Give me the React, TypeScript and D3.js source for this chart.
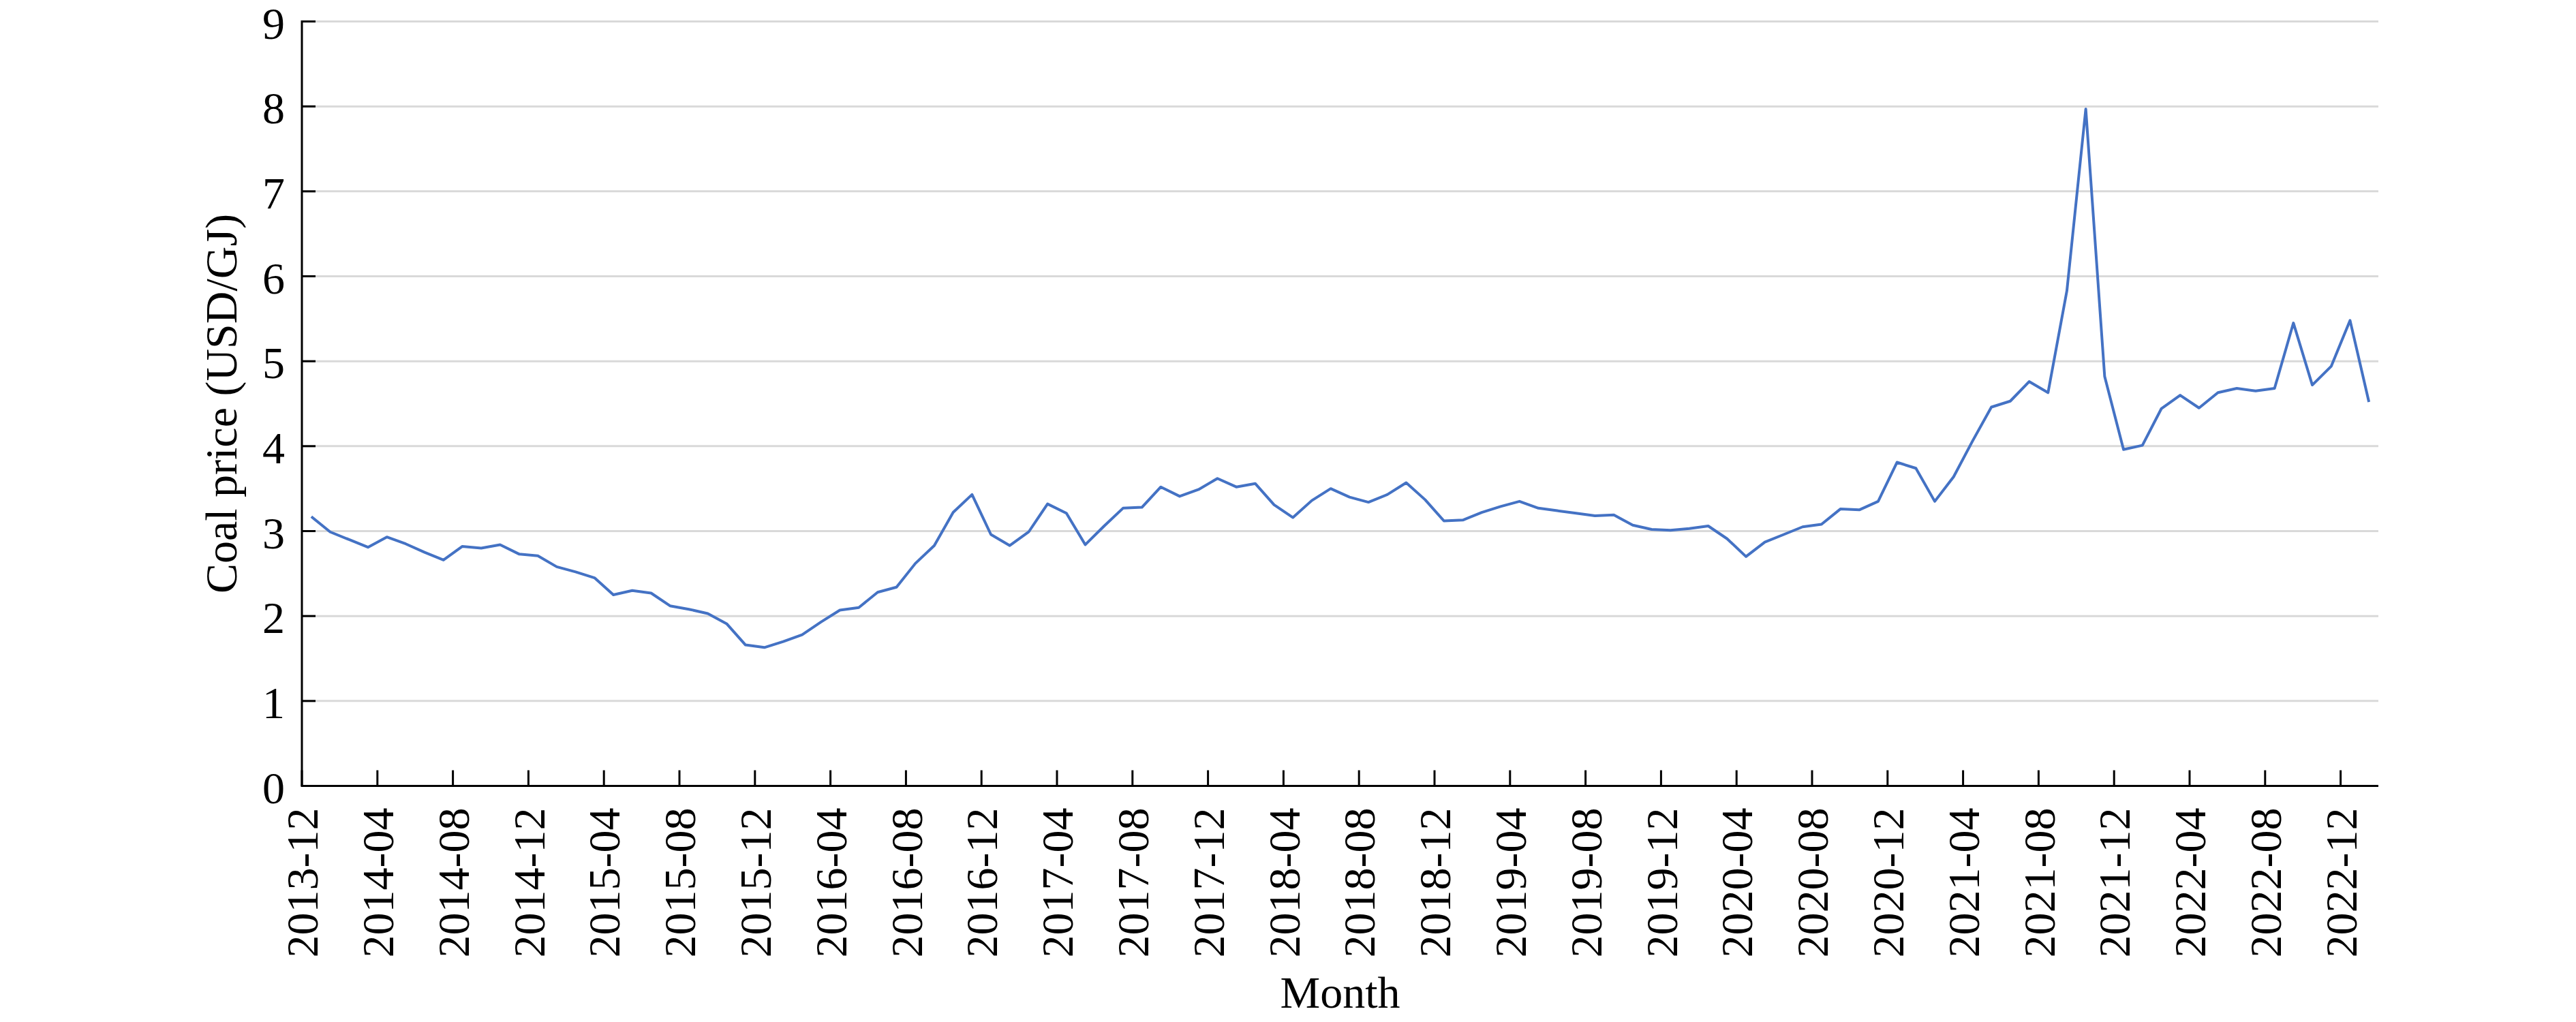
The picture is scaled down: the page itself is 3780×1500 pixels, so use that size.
import React from "react";
import * as d3 from "d3";

const startMonth = new Date(Date.UTC(2013, 11, 1));
const monthCount = 110;
const months: string[] = d3.utcMonth
  .range(startMonth, d3.utcMonth.offset(startMonth, monthCount))
  .map((d) => d3.utcFormat("%Y-%m")(d));

const coalPrice: number[] = [
  3.17, 2.99, 2.9, 2.81, 2.93, 2.85, 2.75, 2.66, 2.82, 2.8,
  2.84, 2.73, 2.71, 2.58, 2.52, 2.45, 2.25, 2.3, 2.27, 2.12,
  2.08, 2.03, 1.91, 1.66, 1.63, 1.7, 1.78, 1.93, 2.07, 2.1,
  2.28, 2.34, 2.62, 2.83, 3.22, 3.43, 2.96, 2.83, 2.99, 3.32,
  3.21, 2.84, 3.06, 3.27, 3.28, 3.52, 3.41, 3.49, 3.62, 3.52,
  3.56, 3.31, 3.16, 3.36, 3.5, 3.4, 3.34, 3.43, 3.57, 3.37,
  3.12, 3.13, 3.22, 3.29, 3.35, 3.27, 3.24, 3.21, 3.18, 3.19,
  3.07, 3.02, 3.01, 3.03, 3.06, 2.91, 2.7, 2.87, 2.96, 3.05,
  3.08, 3.26, 3.25, 3.35, 3.81, 3.74, 3.35, 3.64, 4.06, 4.46,
  4.53, 4.76, 4.63, 5.83, 7.97, 4.82, 3.96, 4.01, 4.44, 4.6,
  4.45, 4.63, 4.68, 4.65, 4.68, 5.45, 4.72, 4.94, 5.48, 4.52,
];

const tickLabels: string[] = [
  "2013-12", "2014-04", "2014-08", "2014-12", "2015-04", "2015-08", "2015-12",
  "2016-04", "2016-08", "2016-12", "2017-04", "2017-08", "2017-12",
  "2018-04", "2018-08", "2018-12", "2019-04", "2019-08", "2019-12",
  "2020-04", "2020-08", "2020-12", "2021-04", "2021-08", "2021-12",
  "2022-04", "2022-08", "2022-12",
];

const yTicks: number[] = [0, 1, 2, 3, 4, 5, 6, 7, 8, 9];

const W = 3780;
const H = 1500;
const left = 443;
const right = 3490;
const top = 31.5;
const bottom = 1153.5;
const FONT = "'Liberation Serif', 'Times New Roman', serif";
const FS = 66;

export default function App() {
  const x = d3.scaleBand<string>().domain(months).range([left, right]).padding(0);
  const y = d3.scaleLinear().domain([0, 9]).range([bottom, top]);
  const bw = x.bandwidth();

  const line = d3
    .line<number>()
    .x((_, i) => (x(months[i]) as number) + bw / 2)
    .y((d) => y(d));

  return (
    <svg
      width={W}
      height={H}
      style={{ position: "absolute", left: 0, top: 0, background: "#fff" }}
      fontFamily={FONT}
    >
      <rect x={0} y={0} width={W} height={H} fill="#fff" />
      {yTicks
        .filter((t) => t > 0)
        .map((t) => (
          <line key={"g" + t} x1={left} x2={right} y1={y(t)} y2={y(t)} stroke="#d9d9d9" strokeWidth={3} />
        ))}
      <path d={line(coalPrice) || ""} fill="none" stroke="#4472c4" strokeWidth={4} strokeLinejoin="round" />
      <line x1={left} x2={left} y1={top - 1.5} y2={bottom} stroke="#000" strokeWidth={3} />
      <line x1={left - 1.5} x2={right} y1={bottom} y2={bottom} stroke="#000" strokeWidth={3} />
      {yTicks.map((t) => (
        <g key={"y" + t}>
          <line x1={left} x2={left + 20} y1={y(t)} y2={y(t)} stroke="#000" strokeWidth={3} />
          <text x={left - 25} y={y(t) + 2} dy="0.35em" textAnchor="end" fontSize={FS} fill="#000">
            {t}
          </text>
        </g>
      ))}
      {tickLabels.map((lab) => {
        const xp = x(lab) as number;
        return (
          <g key={"x" + lab}>
            <line x1={xp} x2={xp} y1={bottom} y2={bottom - 23} stroke="#000" strokeWidth={3} />
            <text
              transform={`translate(${xp},${bottom + 32}) rotate(-90)`}
              dy="0.35em"
              textAnchor="end"
              fontSize={FS}
              fill="#000"
            >
              {lab}
            </text>
          </g>
        );
      })}
      <text
        transform={`translate(347,${(top + bottom) / 2}) rotate(-90)`}
        textAnchor="middle"
        fontSize={FS}
        fill="#000"
      >
        Coal price (USD/GJ)
      </text>
      <text x={(left + right) / 2} y={1479} textAnchor="middle" fontSize={FS} fill="#000">
        Month
      </text>
    </svg>
  );
}
